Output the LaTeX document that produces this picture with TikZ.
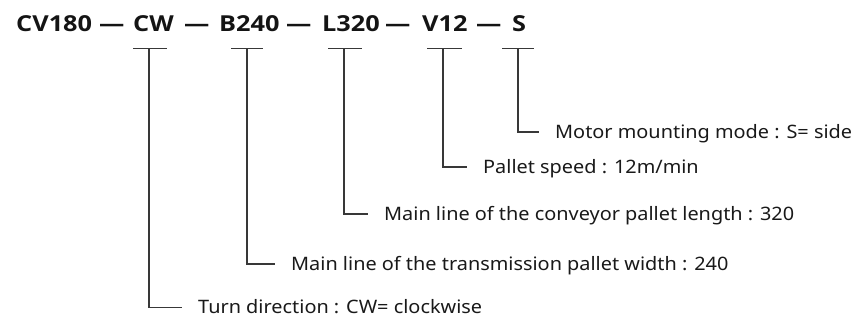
\documentclass[tikz,border=0pt]{standalone}
\usepackage{fontspec}
\setmainfont{Noto Sans}
\newfontfamily\lblfont{Noto Sans}[FakeStretch=1.075]
\newfontfamily\hdrfont{Open Sans}[FakeStretch=1.15]
\begin{document}
\begin{tikzpicture}[x=1pt,y=-1pt,
  conn/.style={draw=black!78, line width=1.3pt},
  lbl/.style={anchor=base west, inner sep=0pt, text=black!90, font=\lblfont\fontsize{18.5}{20}\selectfont},
  hdr/.style={anchor=base west, inner sep=0pt, text=black!92, font=\hdrfont\bfseries\fontsize{22}{24}\selectfont}]
\useasboundingbox (0,0) rectangle (857,320);
\node[hdr] (h1) at (16,31.7) {CV180};
\node[hdr] (d1) at (99,31.7) {—};
\node[hdr] (h2) at (133,31.7) {CW};
\node[hdr] (d2) at (184,31.7) {—};
\node[hdr] (h3) at (219,31.7) {B240};
\node[hdr] (d3) at (286,31.7) {—};
\node[hdr] (h4) at (322,31.7) {L320};
\node[hdr] (d4) at (385,31.7) {—};
\node[hdr] (h5) at (422,31.7) {V12};
\node[hdr] (d5) at (476,31.7) {—};
\node[hdr] (h6) at (512,31.7) {S};
% T bars
\draw[conn] (133,48.5) -- (167,48.5);
\draw[conn] (231,48.5) -- (263,48.5);
\draw[conn] (328,48.5) -- (362,48.5);
\draw[conn] (427,48.5) -- (462,48.5);
\draw[conn] (502,48.5) -- (534,48.5);
\coordinate (tcw) at (149,48.5);
\coordinate (tb) at (247,48.5);
\coordinate (tl) at (344,48.5);
\coordinate (tv) at (443,48.5);
\coordinate (ts) at (518,48.5);
\coordinate (ecw) at (182,307.7);
\coordinate (eb) at (275,264);
\coordinate (el) at (368,214);
\coordinate (ev) at (467,167);
\coordinate (es) at (538.5,132);
\node[lbl] (lcw) at (198,314) {Turn direction : CW= clockwise};
\node[lbl] (lb) at (291,270.3) {Main line of the transmission pallet width : 240};
\node[lbl] (ll) at (384,220.3) {Main line of the conveyor pallet length : 320};
\node[lbl] (lv) at (483,173.3) {Pallet speed : 12m/min};
\node[lbl] (ls) at (555,138.3) {Motor mounting mode : S= side};
\draw[conn] (tcw) |- (ecw);
\draw[conn] (tb) |- (eb);
\draw[conn] (tl) |- (el);
\draw[conn] (tv) |- (ev);
\draw[conn] (ts) |- (es);
\end{tikzpicture}
\end{document}
